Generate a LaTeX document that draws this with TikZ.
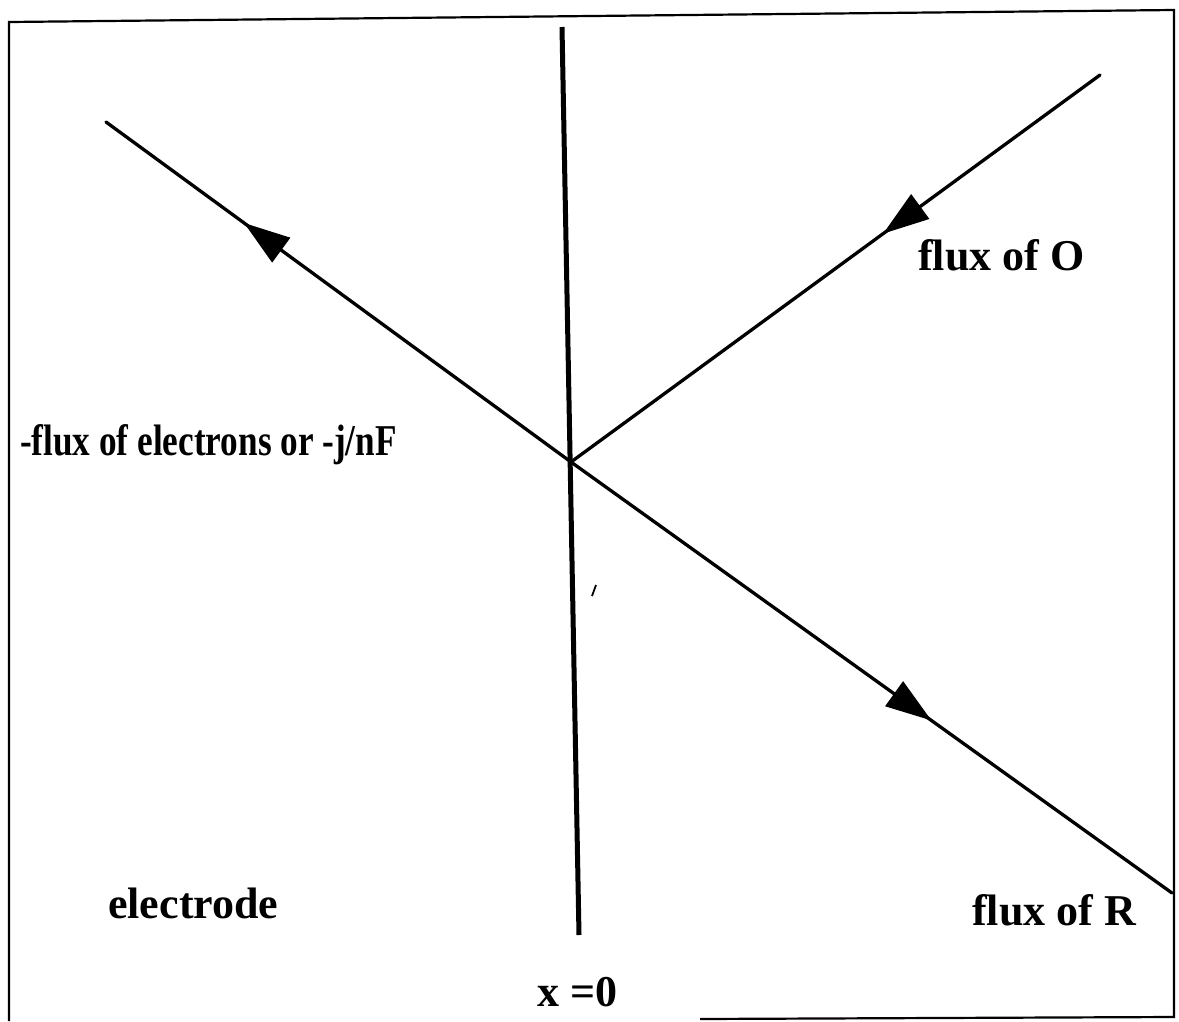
\documentclass[tikz,border=0pt]{standalone}
\usepackage{fontspec}
\setmainfont{Liberation Serif}
\usetikzlibrary{arrows.meta,decorations.markings}
\tikzset{
  lbl/.style={inner sep=0pt,font=\fontsize{44}{52}\selectfont\bfseries},
  flux/.style={line width=3.3pt,line cap=round},
  midarrow/.style={postaction={decorate},decoration={markings,
     mark=at position #1 with {\arrow{Triangle[length=46pt,width=30pt]}}}},
  frame/.style={line width=2.2pt}
}
\begin{document}
\begin{tikzpicture}[x=1pt,y=-1pt]
\path[use as bounding box] (0,0) rectangle (1179,1021);
% frame
\draw[frame] (9,1021) -- (9,22) -- (1174,10) -- (1174,1017) -- (700,1019);
% coordinates
\coordinate (vtop) at (562,27);
\coordinate (vbot) at (579,935);
\coordinate (c) at (571,462);
\coordinate (eend) at (106,122);
\coordinate (ostart) at (1100,75);
\coordinate (rend) at (1172,893);
% electrode plane
\draw[line width=5pt] (vtop) -- (vbot);
% fluxes
\draw[flux,midarrow=0.703] (c) -- (eend);
\draw[flux,midarrow=0.41] (ostart) -- (c);
\draw[flux,midarrow=0.60] (c) -- (rend);
% stray mark
\draw[line width=1.8pt] (592,596) -- (596,585);
% labels
\node[lbl,anchor=base west,xscale=0.8] (elec) at (20,455) {-flux of electrons or -j/nF};
\node[lbl,anchor=base west] (fo) at (918,270) {flux of O};
\node[lbl,anchor=base west] (ed) at (108,918) {electrode};
\node[lbl,anchor=base west] (fr) at (972,925) {flux of R};
\node[lbl,anchor=base west] (x0) at (537,1006) {x =0};
\end{tikzpicture}
\end{document}
